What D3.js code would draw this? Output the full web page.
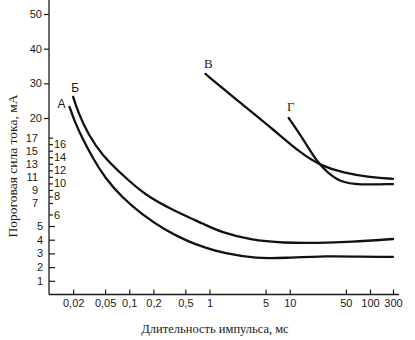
<!DOCTYPE html>
<html>
<head>
<meta charset="utf-8">
<script src="https://cdn.jsdelivr.net/npm/d3@7"></script>
<style>
  html, body { margin: 0; padding: 0; background: #fff; }
  svg { display: block; }
  .tick text { font-family: "Liberation Sans", Arial, sans-serif; font-size: 11px; fill: #1a1a1a; }
  .tick line { stroke: #1a1a1a; stroke-width: 1.2; }
  .domain { display: none; }
</style>
</head>
<body>
<svg id="chart" width="415" height="340"></svg>
<script>
// Pulse duration, ms (x) vs threshold current, mA (y)
const xTicks = [0.02, 0.05, 0.1, 0.2, 0.5, 1, 5, 10, 50, 100, 300];
const yTicksOuter = [20, 30, 40, 50];
const yTicksLow = [1, 2, 3, 4, 5];
const yTicksOdd = [7, 9, 11, 13, 15, 17];
const yTicksEven = [6, 8, 10, 12, 14, 16];

const curveNames = ["А", "Б", "В", "Г"];
const curveA = [[0.018, 23.2], [0.021, 19.4], [0.026, 16.9], [0.035, 13.9], [0.05, 10.8], [0.082, 7.8],
  [0.145, 6.0], [0.28, 4.7], [0.55, 3.85], [0.9, 3.4], [1.4, 3.05], [4, 2.6], [8.4, 2.67],
  [30, 2.82], [77, 2.75], [300, 2.75]];
const curveB = [[0.02, 26.1], [0.023, 21.7], [0.031, 17.4], [0.046, 14.3], [0.082, 11.3], [0.158, 8.2],
  [0.345, 6.4], [0.89, 5.1], [1.37, 4.56], [3.25, 3.98], [8.4, 3.76], [22, 3.76], [58, 3.84], [300, 4.05]];
const curveV = [[0.89, 32.7], [2.44, 24.3], [6.3, 18.2], [13.7, 14.6], [24.4, 12.7], [47, 11.6],
  [94, 11.0], [300, 10.7]];
const curveG = [[9.7, 20], [15, 16.6], [22.4, 13.1], [30, 11.6], [43, 10.2], [71, 9.76], [300, 9.9]];

const svg = d3.select("#chart");
const axisX = 49;

// log scale, the last interval (100..300) is compressed
const x = d3.scaleLog().domain([0.01, 100, 300]).range([axisX, 370, 393]);
// piecewise linear value axis
const y = d3.scaleLinear().domain([0, 5, 7, 20, 50]).range([294.5, 226, 203, 118, 14]);
const axisY = y(0);

// axis lines
svg.append("line").attr("x1", axisX).attr("x2", axisX).attr("y1", 0).attr("y2", axisY)
  .attr("stroke", "#1a1a1a").attr("stroke-width", 1.3);
svg.append("line").attr("x1", axisX).attr("x2", 399).attr("y1", axisY).attr("y2", axisY)
  .attr("stroke", "#1a1a1a").attr("stroke-width", 1.3);

// x axis
svg.append("g").attr("transform", `translate(0,${axisY})`)
  .call(d3.axisBottom(x).tickValues(xTicks).tickSize(-5).tickPadding(5)
    .tickFormat(d => String(d).replace(".", ",")));

// y axes
svg.append("g").attr("transform", `translate(${axisX},0)`)
  .call(d3.axisLeft(y).tickValues(yTicksOuter).tickSize(5).tickPadding(2));
svg.append("g").attr("transform", `translate(${axisX},0)`)
  .call(d3.axisLeft(y).tickValues(yTicksLow).tickSize(-6).tickPadding(6));
svg.append("g").attr("transform", `translate(${axisX},0)`)
  .call(d3.axisLeft(y).tickValues(yTicksOdd).tickSize(-4).tickPadding(11));
svg.append("g").attr("transform", `translate(${axisX},0)`)
  .call(d3.axisRight(y).tickValues(yTicksEven).tickSize(4).tickPadding(1));

// axis titles
svg.append("text")
  .attr("x", 215).attr("y", 333)
  .attr("text-anchor", "middle")
  .style("font-family", "'Liberation Serif', 'Times New Roman', serif")
  .style("font-size", "12.5px").style("fill", "#1a1a1a")
  .text("Длительность импульса, мс");
svg.append("text")
  .attr("transform", "translate(17,166) rotate(-90)")
  .attr("text-anchor", "middle")
  .style("font-family", "'Liberation Serif', 'Times New Roman', serif")
  .style("font-size", "13.5px").style("fill", "#1a1a1a")
  .text("Пороговая сила тока, мА");

// curves
const line = d3.line().x(d => x(d[0])).y(d => y(d[1])).curve(d3.curveBasis);
const series = [curveA, curveB, curveV, curveG];
svg.append("g").selectAll("path").data(series).join("path")
  .attr("d", line)
  .attr("fill", "none")
  .attr("stroke", "#111")
  .attr("stroke-width", 2.3)
  .attr("stroke-linecap", "round");

// curve names next to the start of each curve
const labelOffsets = [[-8, -3], [2, -9], [3, -10], [2, -12]];
const labelFonts = ["'Liberation Sans', Arial, sans-serif", "'Liberation Sans', Arial, sans-serif",
  "'Liberation Serif', 'Times New Roman', serif", "'Liberation Serif', 'Times New Roman', serif"];
svg.append("g").selectAll("text").data(series).join("text")
  .attr("x", (d, i) => x(d[0][0]) + labelOffsets[i][0])
  .attr("y", (d, i) => y(d[0][1]) + labelOffsets[i][1])
  .attr("text-anchor", "middle")
  .attr("dominant-baseline", "central")
  .style("font-family", (d, i) => labelFonts[i])
  .style("font-size", (d, i) => i < 2 ? "12px" : "13px").style("fill", "#1a1a1a")
  .text((d, i) => curveNames[i]);
</script>
</body>
</html>
